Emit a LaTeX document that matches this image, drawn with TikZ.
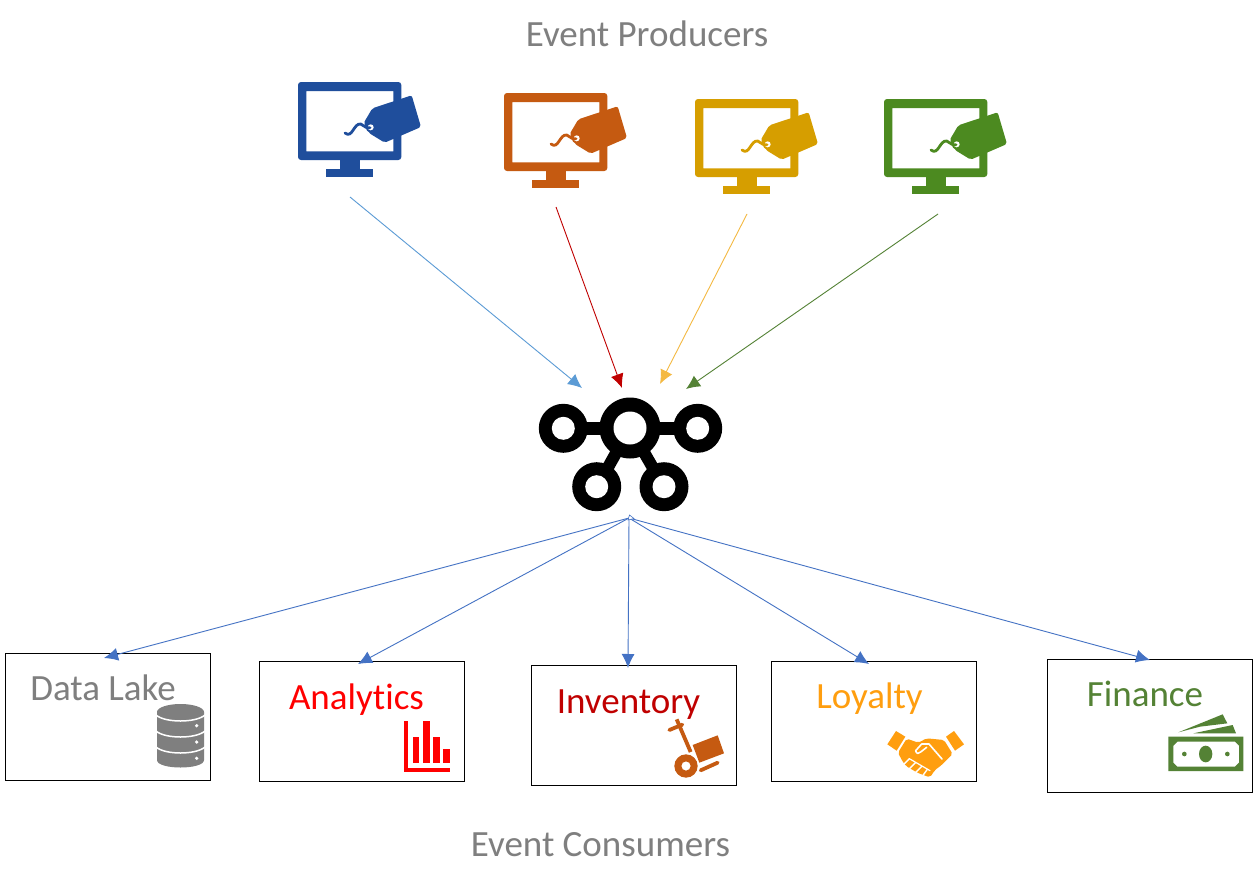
\documentclass[tikz,border=0pt]{standalone}
\usepackage{fontspec}
\setmainfont[Ligatures=NoCommon]{Carlito}
\usetikzlibrary{arrows.meta}
\definecolor{greyt}{HTML}{7F7F7F}
\definecolor{arrowblue}{HTML}{4472C4}
\definecolor{lblue}{HTML}{5B9BD5}
\definecolor{dred}{HTML}{C00000}
\definecolor{lgold}{HTML}{F4B942}
\definecolor{fgreen}{HTML}{548235}
\definecolor{mblue}{HTML}{1F4E9C}
\definecolor{morange}{HTML}{C55A11}
\definecolor{mgold}{HTML}{D69E00}
\definecolor{mgreen}{HTML}{4C8A20}
\definecolor{loyal}{HTML}{FF9E0F}
\tikzset{
  flow/.style={line width=0.9pt,-{Latex[length=14pt,width=13pt]}},
  cbox/.style={draw=black,line width=1pt,anchor=north west,inner sep=0pt,minimum width=205pt},
  boxlabel/.style={anchor=base,inner sep=0pt,font=\fontsize{37}{44}\selectfont},
  title/.style={anchor=base,inner sep=0pt,text=greyt,font=\fontsize{37}{44}\selectfont},
}
\newcommand{\monitoricon}[3]{%
  \begin{scope}[shift={(#1-18.33,#2-12.33)},scale=1/3]
    \fill[#3,rounded corners=3pt,even odd rule] (55,37) rectangle (365,271)
      {[sharp corners] (80,64) rectangle (341,245)};
    \fill[#3] (180,271) rectangle (242,298);
    \fill[#3] (140,298) rectangle (280,322);
    \fill[#3,rounded corners=2pt] (252,160) -- (278,116) -- (396,77) -- (424,172) -- (315,219) -- (268,190) -- cycle;
    \fill[#3] (273,173) circle (15);
    \fill[white] (273,173) circle (9);
    \draw[#3,line width=2.8pt,line cap=round] (196,190) .. controls (218,208) and (222,160) .. (243,163) .. controls (255,165) and (255,178) .. (271,174);
  \end{scope}}
\begin{document}
\begin{tikzpicture}[x=1pt,y=-1pt]
\useasboundingbox[fill=white] (0,0) rectangle (1253,888);
% titles
\node[title] (producers) at (647,47) {Event Producers};
\node[title] (consumers) at (600.5,856) {Event Consumers};
% monitors
\monitoricon{298}{82}{mblue}
\monitoricon{504}{93}{morange}
\monitoricon{695}{99}{mgold}
\monitoricon{884}{99}{mgreen}
% hub
\draw[line width=13pt] (563,428) -- (698,428);
\draw[line width=12pt] (630,428) -- (597,487);
\draw[line width=12pt] (630,428) -- (664,487);
\node[circle,fill=black,draw=none,minimum size=61pt,inner sep=0pt] (hub) at (630,428) {};
\fill[white] (630,428) circle (16.5);
\foreach \n/\cx/\cy in {hl/563.3/428.3,hr/697.7/428.3,hb/596.7/486.7,hc/664/486.7}{
  \node[circle,fill=black,minimum size=49pt,inner sep=0pt] (\n) at (\cx,\cy) {};
  \fill[white] (\cx,\cy) circle (11.5);
}
% connectors in
\coordinate (s1) at (350,197); \coordinate (e1) at (582,388);
\coordinate (s2) at (556,207); \coordinate (e2) at (622,388);
\coordinate (s3) at (747,214); \coordinate (e3) at (660,384);
\coordinate (s4) at (938,214); \coordinate (e4) at (686,389);
\draw[flow,lblue] (s1) -- (e1);
\draw[flow,dred] (s2) -- (e2);
\draw[flow,lgold] (s3) -- (e3);
\draw[flow,fgreen] (s4) -- (e4);
% boxes
\node[cbox,minimum height=127pt] (b1) at (5,653) {};
\node[cbox,minimum height=120pt] (b2) at (259,661) {};
\node[cbox,minimum height=120pt] (b3) at (531,665) {};
\node[cbox,minimum height=120pt] (b4) at (771,661) {};
\node[cbox,minimum height=133pt] (b5) at (1047,659) {};
\node[boxlabel,text=greyt] (t1) at (103,700) {Data Lake};
\node[boxlabel,text=red] (t2) at (356.5,709) {Analytics};
\node[boxlabel,text=dred] (t3) at (628.5,713) {Inventory};
\node[boxlabel,text=loyal] (t4) at (869.5,708) {Loyalty};
\node[boxlabel,text=fgreen] (t5) at (1145,706) {Finance};
% connectors out
\coordinate (src) at (629,518);
\coordinate (c1) at (104,658); \coordinate (c2) at (358,664);
\coordinate (c3) at (628,668); \coordinate (c4) at (869,664);
\coordinate (c5) at (1150,660);
\foreach \c in {c1,c2,c3,c4,c5}{\draw[flow,arrowblue] (src) -- (\c);}
\draw[arrowblue,line width=0.6pt,fill=white] (628,520) -- (629.5,515) -- (634,518.5) -- cycle;
% database
\begin{scope}
  \fill[greyt] (157,712) arc[start angle=180,end angle=0,x radius=23.5,y radius=-8] -- (204,760)
     .. controls (204,770) and (157,770) .. (157,760) -- cycle;
  \foreach \yy in {715,731,747}{
    \draw[white,line width=1.5pt] (156,\yy) .. controls (165,\yy+8) and (196,\yy+8) .. (205,\yy);
  }
  \foreach \yy in {725.7,742,758.3}{\fill[white] (196.7,\yy) circle (1.8);}
\end{scope}
% chart
\fill[red] (404.3,721) rectangle (408.3,771.7);
\fill[red] (404.3,767.7) rectangle (450,771.7);
\fill[red] (412.7,736.7) rectangle (419.3,762.7);
\fill[red] (422.7,721) rectangle (430,762.7);
\fill[red] (432.7,736.7) rectangle (440,762.7);
\fill[red] (442.7,749.3) rectangle (450,762.7);
% trolley
\begin{scope}[shift={(525,650)},scale=1/3]
  \draw[morange,line width=3.8pt] (455,208) -- (497,306);
  \draw[morange,line width=3.8pt,line cap=round] (433,240) -- (472,224);
  \fill[morange,even odd rule] (483,348) circle (35) (483,348) circle (14);
  \fill[morange] (503,285) -- (578,256) -- (597,310) -- (523,338) -- cycle;
  \draw[morange,line width=3.8pt,line cap=round] (527,361) -- (578,338);
\end{scope}
% handshake
\begin{scope}[shift={(880,720)},scale=1/3]
  \fill[loyal] (48,33) -- (76,50) -- (50,92) -- (22,73) -- cycle;
  \fill[loyal] (222,33) -- (198,50) -- (225,92) -- (252,73) -- cycle;
  \fill[loyal,rounded corners=2pt] (80,56) -- (115,68) -- (140,55) -- (192,60) -- (218,102) -- (185,135) -- (165,150) -- (150,172) -- (130,165) -- (112,158) -- (95,148) -- (78,138) -- (68,125) -- (54,98) -- cycle;
  \draw[white,line width=1.6pt,line cap=round,line join=round] (186,117) -- (147,72) -- (125,72) -- (107,92) .. controls (108,102) and (118,102) .. (122,96) -- (140,82);
  \draw[white,line width=1.4pt,line cap=round] (88,116) -- (70,134) (106,128) -- (86,148) (124,140) -- (104,160) (142,148) -- (126,170);
  \draw[white,line width=1.2pt,line cap=round] (88,116) -- (150,152);
\end{scope}
% money
\begin{scope}[shift={(1040,650)},scale=1/3]
  \fill[fgreen,even odd rule] (385,260) rectangle (610,363) (412,275) -- (585,275) -- (597,287) -- (597,338) -- (585,350) -- (412,350) -- (400,338) -- (400,287) -- cycle;
  \fill[fgreen] (497,312) ellipse (20 and 25);
  \fill[fgreen] (433,312) circle (7);
  \fill[fgreen] (562,312) circle (7);
  \fill[fgreen] (415,247) -- (548,193) -- (562,220) -- (480,230) -- cycle;
  \fill[fgreen] (460,250) -- (578,225) -- (588,250) -- cycle;
\end{scope}
\end{tikzpicture}
\end{document}
